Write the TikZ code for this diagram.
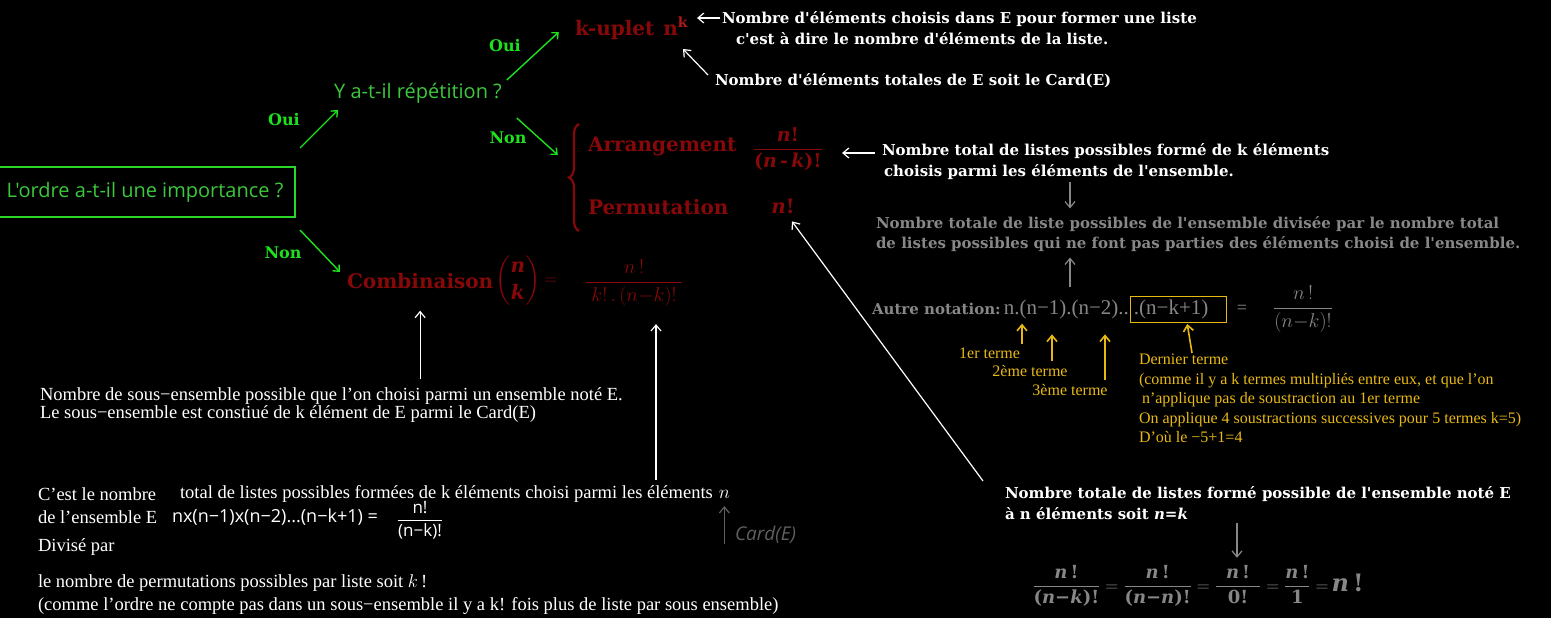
\documentclass[tikz,border=0pt]{standalone}
\usepackage{fix-cm}
\usepackage{amsmath}
\usepackage{fontspec}
\setmainfont{Liberation Serif}
\newfontfamily\uifont{Open Sans}
\newfontfamily\notefont{DejaVu Serif}
\usetikzlibrary{arrows.meta}
\usetikzlibrary{decorations.pathreplacing}
\definecolor{boxgreen}{RGB}{40,215,40}
\definecolor{qgreen}{RGB}{60,200,60}
\definecolor{choixgreen}{RGB}{30,225,30}
\definecolor{formred}{RGB}{135,8,8}
\definecolor{supred}{RGB}{175,25,25}
\definecolor{notegrey}{RGB}{135,135,135}
\definecolor{cardgrey}{RGB}{95,95,95}
\definecolor{termgold}{RGB}{232,185,20}
\newcommand{\vn}{\textit{n}}
\newcommand{\vk}{\textit{k}}
\newcommand{\fracnote}[2]{\dfrac{\text{#1}}{\text{#2}}}

\begin{document}
\begin{tikzpicture}[x=1pt, y=-1pt,
    every node/.style={inner sep=0pt, outer sep=0pt},
    question/.style={text=qgreen, font=\uifont\fontsize{20}{24}\selectfont},
    choix/.style={text=choixgreen, font=\notefont\bfseries\fontsize{16}{20}\selectfont},
    choixarr/.style={choixgreen, line width=1.4pt, -{Straight Barb[length=5pt,width=9pt]}},
    formule/.style={text=formred, font=\notefont\bfseries\fontsize{20}{24}\selectfont},
    note/.style={text=white, font=\notefont\bfseries\fontsize{15}{21}\selectfont, align=left, anchor=west},
    greynote/.style={text=notegrey, font=\notefont\bfseries\fontsize{15}{20}\selectfont, align=left, anchor=west},
    texte/.style={text=white, font=\fontsize{18.5}{18.5}\selectfont, align=left, anchor=west},
    terme/.style={text=termgold, font=\fontsize{16}{19.5}\selectfont, align=left},
    whitearr/.style={white, line width=1.2pt, -{Straight Barb[length=6pt,width=10pt]}},
    greyarr/.style={notegrey, line width=1.2pt, -{Straight Barb[length=6pt,width=10pt]}},
    cardarr/.style={cardgrey, line width=1.2pt, -{Straight Barb[length=6pt,width=10pt]}},
    goldarr/.style={termgold, line width=1.6pt, -{Straight Barb[length=6pt,width=10pt]}}
  ]
  \fill[black] (0,0) rectangle (1551,618);
  \useasboundingbox (0,0) rectangle (1551,618);

  % questions
  \node[question, draw=boxgreen, line width=1.6pt, minimum width=300pt, minimum height=50pt] (ordre) at (145,192) {L'ordre a-t-il une importance ?};
  \node[question] (repet) at (418,93) {Y a-t-il répétition ?};
  \node[choix] (oui1) at (284,120) {Oui};
  \node[choix] (non1) at (283,253) {Non};
  \node[choix] (oui2) at (505,46) {Oui};
  \node[choix] (non2) at (508,138) {Non};
  \draw[choixarr] ([xshift=5pt,yshift=19pt]ordre.north east) -- ++(38,-38);
  \draw[choixarr] ([xshift=5pt,yshift=-13pt]ordre.south east) -- ++(40,42);
  \draw[choixarr] ([xshift=5pt,yshift=13pt]repet.east) -- ++(52,-48);
  \draw[choixarr] ([xshift=15pt,yshift=-25pt]repet.east) -- ++(41,37);

  % formules
  \node[formule, anchor=west] (kuplet) at (575,28) {k-uplet\hspace{9pt}n\raisebox{8pt}{\textcolor{supred}{\fontsize{14}{14}\selectfont k}}};
  \draw[formred, line width=2.2pt, decorate, decoration={brace, amplitude=10pt}] (579,231) -- (579,124);
  \node[formule, anchor=west] (arr) at (588,146) {Arrangement};
  \node[formule] (arrfrac) at (788,149) {\fontsize{19}{22}\selectfont$\fracnote{\vn!}{(\vn\,-\,\vk)!}$};
  \node[formule, anchor=west] (perm) at (588,207) {Permutation};
  \node[formule] (permn) at (783,206) {\vn!};
  \node[formule, anchor=west] (comb) at (347,281) {Combinaison};
  \node[formule, anchor=west] (binom) at ([xshift=2pt]comb.east) {$\dbinom{\text{\vn}}{\text{\vk}}$};
  \node[text=formred, anchor=west] (combeq) at ([xshift=4pt]binom.east) {\fontsize{18}{20}\selectfont$=$};
  \node[text=formred] (combfrac) at (634,283) {\fontsize{20}{24}\selectfont$\dfrac{n\,!}{\;k!\,.\,(n{-}k)!\;}$};

  % notes en haut
  \node[note] (kdef) at (722,28) {Nombre d'éléments choisis dans E pour former une liste\\\hspace*{14pt}c'est à dire le nombre d'éléments de la liste.};
  \draw[whitearr] ([xshift=-2pt,yshift=10pt]kdef.west) -- ++(-23,0);
  \node[note] (cardn) at (715,81) {Nombre d'éléments totales de E soit le Card(E)};
  \draw[whitearr] ([xshift=-7pt,yshift=6pt]cardn.west) -- ++(-25,-26);
  \node[note] (arrdef) at (882,162) {Nombre total de listes possibles formé de k éléments\\\hspace*{2pt}choisis parmi les éléments de l'ensemble.};
  \draw[whitearr] ([xshift=-7pt,yshift=9pt]arrdef.west) -- ++(-33,0);
  \coordinate (colA) at (1070,0);
  \node[greynote] (divtxt) at (876,234) {Nombre totale de liste possibles de l'ensemble divisée par le nombre total\\de listes possibles qui ne font pas parties des éléments choisi de l'ensemble.};
  \draw[greyarr, shorten <=2pt, shorten >=8pt] (arrdef.south -| colA) -- (divtxt.north -| colA);

  % autre notation
  \node[greynote] (autre) at (872,309) {Autre notation:};
  \node[text=notegrey, font=\fontsize{21}{22}\selectfont, anchor=west] (prod) at ([xshift=3pt]autre.east) {n.(n−1).(n−2)..};
  \node[text=notegrey, font=\fontsize{21}{22}\selectfont, draw=termgold, line width=1pt, anchor=west, text width=90pt, inner xsep=3pt, minimum height=26pt] (dernier) at ([xshift=2pt]prod.east) {.(n−k+1)};
  \node[text=notegrey, font=\fontsize{18}{20}\selectfont] (egal) at (1242,309) {=};
  \node[text=notegrey] (nfrac) at (1303,309) {\fontsize{20}{24}\selectfont$\dfrac{n\,!}{(n{-}k)!}$};
  \draw[greyarr, shorten <=12pt, shorten >=6pt] (prod.north -| colA) -- (divtxt.south -| colA);

  % termes
  \node[terme, anchor=east] (t1) at (1020,353) {1er terme};
  \node[terme] (t2) at (1030,371) {2ème terme};
  \node[terme] (t3) at (1070,390) {3ème terme};
  \draw[goldarr] ([xshift=2pt,yshift=4pt]t1.north east) -- ++(0,-20);
  \draw[goldarr] ([xshift=22pt,yshift=4pt]t2.north) -- ++(0,-27);
  \draw[goldarr] ([xshift=35pt,yshift=4pt]t3.north) -- ++(0,-46);
  \node[terme, anchor=north west] (dern) at (1139,354) {Dernier terme\\(comme il y a k termes multipliés entre eux, et que l'on\\\hspace*{3pt}n'applique pas de soustraction au 1er terme\\On applique 4 soustractions successives pour 5 termes k=5)\\D'où le −5+1=4};
  \draw[goldarr, shorten >=2pt] ([xshift=53pt,yshift=1pt]dern.north west) -- ([xshift=8pt]dernier.south);

  % permutation
  \node[note] (permdef) at (1005,503) {Nombre totale de listes formé possible de l'ensemble noté E\\à n éléments soit \vn=\vk};
  \draw[whitearr] ([xshift=-22pt,yshift=22pt]permdef.west) -- ([xshift=9pt,yshift=-8pt]permn.south);
  \coordinate (colB) at (1237,0);
  \node[text=notegrey, font=\notefont\bfseries\fontsize{18}{20}\selectfont] (permfrac) at (1198,586) {$\fracnote{\vn\,!}{(\vn−\vk)!}=\fracnote{\vn\,!}{(\vn−\vn)!}=\fracnote{\hspace{10pt}\vn\,!\hspace{10pt}}{0!}=\fracnote{\vn\,!}{1}=$\,{\fontsize{24}{26}\selectfont\vn\,!}};
  \draw[greyarr, shorten <=3pt, shorten >=8pt] (permdef.south -| colB) -- (permfrac.north -| colB);

  % combinaison
  \node[texte] (combdef) at (40,405) {Nombre de sous−ensemble possible que l'on choisi parmi un ensemble noté E.\\Le sous−ensemble est constiué de k élément de E parmi le Card(E)};
  \draw[whitearr, shorten <=8pt, shorten >=22pt] (combdef.north -| comb) -- (comb.south);
  \node[texte] (cest) at (38,494) {C'est le nombre};
  \node[texte] (cestb) at (180,494) {total de listes possibles formées de k éléments choisi parmi les éléments};
  \node[text=white, anchor=west] (nsym) at ([xshift=6pt]cestb.east) {\fontsize{19}{20}\selectfont$n$};
  \coordinate (colC) at (656,0);
  \draw[whitearr, shorten <=6pt, shorten >=18pt] (cestb.north -| colC) -- (combfrac.south -| colC);
  \node[texte] (ensE) at (38,517) {de l'ensemble E};
  \node[text=white, anchor=west, font=\uifont\fontsize{18}{20}\selectfont] (prodhand) at (172,517) {nx(n−1)x(n−2)...(n−k+1) =};
  \node[text=white] (handfrac) at (420,520) {\fontsize{17}{19}\selectfont$\dfrac{\text{\uifont n!}}{\text{\uifont (n−k)!}}$};
  \node[texte] (divpar) at (38,547) {Divisé par};
  \node[texte] (permliste) at (38,583) {le nombre de permutations possibles par liste soit $k$\,!};
  \node[texte] (kfois) at (38,606) {(comme l'ordre ne compte pas dans un sous−ensemble il y a k! fois plus de liste par sous ensemble)};
  \node[text=cardgrey, anchor=west, font=\uifont\itshape\fontsize{19}{20}\selectfont] (cardE) at (735,535) {Card(E)};
  \draw[cardarr, shorten >=8pt] (nsym.south |- cardE.south) -- (nsym.south);
\end{tikzpicture}
\end{document}
